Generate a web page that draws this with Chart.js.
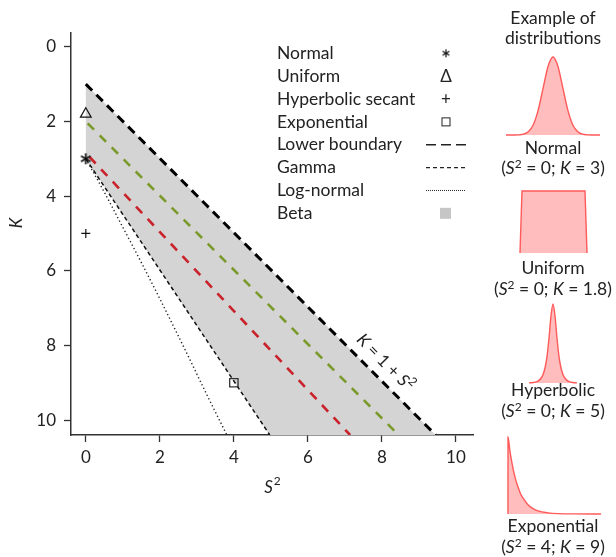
<!DOCTYPE html>
<html><head><meta charset="utf-8">
<script src="https://cdn.jsdelivr.net/npm/chart.js@4.4.0/dist/chart.umd.min.js"></script>
<style>
html,body{margin:0;padding:0;background:#fff;}
body{width:616px;height:557px;position:relative;overflow:hidden;font-family:Lato,sans-serif;color:#222;}
#main{position:absolute;left:0;top:0;}
.mini{position:absolute;}
.cap{position:absolute;width:150px;left:478px;text-align:center;font-size:17.5px;line-height:21px;white-space:nowrap;}
.sup{font-size:12px;position:relative;top:-6px;}
</style></head><body>
<canvas id="main" width="490" height="500"></canvas>
<canvas id="cNormal" class="mini" width="100" height="86" style="left:503px;top:52px"></canvas>
<canvas id="cUniform" class="mini" width="73" height="70" style="left:517px;top:186px"></canvas>
<canvas id="cHyp" class="mini" width="54" height="87" style="left:526px;top:299px"></canvas>
<canvas id="cExp" class="mini" width="99" height="85" style="left:505px;top:432px"></canvas>
<div class="cap" style="top:8px;line-height:20px">Example of<br>distributions</div>
<div class="cap" style="top:138px;line-height:20px">Normal<br>(<i>S</i><span class="sup">2</span> = 0; <i>K</i> = 3)</div>
<div class="cap" style="top:257px">Uniform<br>(<i>S</i><span class="sup">2</span> = 0; <i>K</i> = 1.8)</div>
<div class="cap" style="top:379px">Hyperbolic<br>(<i>S</i><span class="sup">2</span> = 0; <i>K</i> = 5)</div>
<div class="cap" style="top:515px">Exponential<br>(<i>S</i><span class="sup">2</span> = 4; <i>K</i> = 9)</div>
<script>
// ---------- data ----------
const xTicks = [0, 2, 4, 6, 8, 10];
const yTicks = [0, 2, 4, 6, 8, 10];
const upperBoundary = [[0, 1], [9.45, 10.4]];            // K = 1 + S^2 (lower boundary)
const gammaLine = [[0, 3], [4.97, 10.4]];
const logNormalLine = [[0, 3], [0.47, 3.84], [0.96, 4.76], [1.49, 5.76], [2.05, 6.85], [2.64, 8.03], [3.27, 9.32], [3.81, 10.4]];
const greenLine = [[0.05, 2.05], [8.45, 10.4]];
const redLine = [[0.1, 2.95], [7.14, 10.4]];
const betaRegion = [[0, 1], [9.45, 10.4], [4.97, 10.4], [0, 3]];
const normalPoint = [[0, 3]];
const uniformPoint = [[0, 1.8]];
const hypsecPoint = [[0, 5]];
const exponentialPoint = [[4, 9]];
const legendLabels = ['Normal', 'Uniform', 'Hyperbolic secant', 'Exponential', 'Lower boundary', 'Gamma', 'Log-normal', 'Beta'];

const normalX = [-4.8, -4, -3.5, -3, -2.5, -2, -1.5, -1, -0.5, 0, 0.5, 1, 1.5, 2, 2.5, 3, 3.5, 4, 4.8];
const normalY = [0, 0.0003, 0.002, 0.011, 0.044, 0.135, 0.325, 0.607, 0.882, 1, 0.882, 0.607, 0.325, 0.135, 0.044, 0.011, 0.002, 0.0003, 0];
const uniformX = [0, 0.03, 0.97, 1];
const uniformY = [0, 1, 1, 0];
const hypX = [-24, -20, -16, -14, -12, -10, -8, -6, -4, -2, 0, 2, 4, 6, 8, 10, 12, 14, 16, 20, 24];
const hypY = [0.002, 0.006, 0.018, 0.033, 0.06, 0.106, 0.19, 0.334, 0.566, 0.85, 1, 0.85, 0.566, 0.334, 0.19, 0.106, 0.06, 0.033, 0.018, 0.006, 0.002];
const expX = [-0.01, 0, 2, 4, 6, 8, 10, 13, 16, 20, 25, 30, 40, 50, 65, 93];
const expY = [0, 1, 0.81, 0.66, 0.53, 0.43, 0.35, 0.25, 0.19, 0.12, 0.07, 0.04, 0.015, 0.005, 0.001, 0];

// ---------- helpers ----------
const toXY = arr => arr.map(p => ({x: p[0], y: p[1]}));
const zipXY = (xs, ys) => xs.map((x, i) => ({x: x, y: ys[i]}));
const FS = 17.5;
Chart.defaults.font.family = 'Lato, sans-serif';
Chart.defaults.font.size = 17;
Chart.defaults.color = '#222';

function makeStar(size, lw) {
  const c0 = document.createElement('canvas');
  c0.width = size; c0.height = size;
  const c = c0.getContext('2d'), m = size / 2, L = size / 2 - 1;
  c.strokeStyle = '#111'; c.lineWidth = lw;
  [90, 30, 150].forEach(a => {
    const r = a * Math.PI / 180;
    c.beginPath();
    c.moveTo(m - Math.cos(r) * L, m - Math.sin(r) * L);
    c.lineTo(m + Math.cos(r) * L, m + Math.sin(r) * L);
    c.stroke();
  });
  return c0;
}
const star = makeStar(13, 1.7);
const legendStar = makeStar(10, 1.2);

const lineDs = (label, pts, color, width, dash, order) => ({
  label, data: toXY(pts), borderColor: color, borderWidth: width, borderDash: dash,
  borderCapStyle: 'butt', pointRadius: 0, fill: false, tension: 0, clip: 0, order
});
const lognormDs = lineDs('Log-normal', logNormalLine, '#222', 1.4, [1.3, 2.6], 5);
lognormDs.cubicInterpolationMode = 'monotone';

const decor = {
  id: 'decor',
  afterDatasetsDraw(chart) {
    const ctx = chart.ctx, xs = chart.scales.x, ys = chart.scales.y;
    ctx.save();
    const p0x = xs.getPixelForValue(0), p0y = ys.getPixelForValue(1);
    const p1x = xs.getPixelForValue(9), p1y = ys.getPixelForValue(10);
    const ang = Math.atan2(p1y - p0y, p1x - p0x);
    ctx.translate(xs.getPixelForValue(8.09), ys.getPixelForValue(8.46));
    ctx.rotate(ang);
    const parts = [['K', 'italic 17px Lato', 0], [' = 1 + ', '17px Lato', 0], ['S', 'italic 17px Lato', 0], ['2', '12px Lato', -6]];
    let w = 0;
    parts.forEach(p => { ctx.font = p[1]; w += ctx.measureText(p[0]).width; });
    let x = -w / 2;
    ctx.fillStyle = '#222'; ctx.textBaseline = 'middle'; ctx.textAlign = 'left';
    parts.forEach(p => { ctx.font = p[1]; ctx.fillText(p[0], x, p[2]); x += ctx.measureText(p[0]).width; });
    ctx.restore();
  },
  afterDraw(chart) {
    const ctx = chart.ctx;
    ctx.save();
    ctx.fillStyle = '#222'; ctx.textBaseline = 'middle';
    ctx.save();
    ctx.translate(17, 223); ctx.rotate(-Math.PI / 2);
    ctx.font = 'italic 17px Lato'; ctx.textAlign = 'center';
    ctx.fillText('K', 0, 0);
    ctx.restore();
    ctx.font = 'italic 17px Lato'; ctx.textAlign = 'left';
    const sw = ctx.measureText('S').width;
    ctx.font = '12px Lato';
    const tw = sw + ctx.measureText('2').width;
    ctx.font = 'italic 17px Lato';
    ctx.fillText('S', 272 - tw / 2, 488);
    ctx.font = '12px Lato';
    ctx.fillText('2', 272 - tw / 2 + sw + 1, 481);
    // legend
    const lx = 277, sx = 446, y0 = 53.3, dy = 22.86;
    ctx.font = FS + 'px Lato'; ctx.textAlign = 'left';
    legendLabels.forEach((t, i) => ctx.fillText(t, lx, y0 + i * dy));
    ctx.textAlign = 'center';
    ctx.drawImage(legendStar, sx - 5, y0 - 5);
    ctx.font = '17px Lato';
    ctx.fillText('\u0394', sx, y0 + dy);
    ctx.fillText('+', sx, y0 + 2 * dy);
    ctx.strokeStyle = '#222'; ctx.lineWidth = 1;
    ctx.strokeRect(sx - 4, y0 + 3 * dy - 4, 8, 8);
    const seg = (yy, dash, lw) => {
      ctx.beginPath(); ctx.setLineDash(dash); ctx.lineWidth = lw;
      ctx.moveTo(426, yy); ctx.lineTo(466, yy); ctx.stroke();
    };
    seg(y0 + 4 * dy, [10, 5], 1.5);
    seg(y0 + 5 * dy, [4, 3], 1.3);
    seg(y0 + 6 * dy, [1, 1], 1);
    ctx.setLineDash([]);
    ctx.fillStyle = '#c6c6c6';
    ctx.fillRect(440, y0 + 7 * dy - 5.5, 11, 11);
    ctx.restore();
  }
};

new Chart(document.getElementById('main'), {
  type: 'line',
  data: {
    datasets: [
      {label: 'Normal', data: toXY(normalPoint), showLine: false, pointStyle: star, pointRadius: 6, order: 0},
      {label: 'Uniform', data: toXY(uniformPoint), showLine: false, pointStyle: 'triangle', pointRadius: 6.2,
        borderColor: '#111', borderWidth: 1.2, backgroundColor: 'rgba(0,0,0,0)', order: 0},
      {label: 'Hyperbolic secant', data: toXY(hypsecPoint), showLine: false, pointStyle: 'cross', pointRadius: 4.5,
        borderColor: '#111', borderWidth: 1.2, order: 0},
      {label: 'Exponential', data: toXY(exponentialPoint), showLine: false, pointStyle: 'rect', pointRadius: 5.9,
        borderColor: '#333', borderWidth: 1.3, backgroundColor: 'rgba(0,0,0,0)', order: 0},
      lineDs('Lower boundary', upperBoundary, '#000', 3, [9, 6], 2),
      lineDs('Gamma', gammaLine, '#111', 1.5, [4, 3], 3),
      lognormDs,
      lineDs('Series A', greenLine, '#7a9a2b', 2.6, [9, 8], 4),
      lineDs('Series B', redLine, '#c9222b', 2.6, [9, 8], 4),
      {label: 'Beta', data: toXY(betaRegion), borderWidth: 0, pointRadius: 0, fill: 'shape',
        backgroundColor: '#d4d4d4', tension: 0, order: 10}
    ]
  },
  options: {
    responsive: false, animation: false, events: [],
    layout: {padding: {top: 33, right: 17, left: 0, bottom: 0}},
    plugins: {legend: {display: false}, tooltip: {enabled: false}},
    scales: {
      x: {
        type: 'linear', min: -0.4, max: 10.46,
        afterBuildTicks: s => { s.ticks = xTicks.map(v => ({value: v})); },
        afterFit: s => { s.height = 65; },
        ticks: {padding: 5, color: '#222', font: {size: 17}},
        grid: {drawOnChartArea: false, drawTicks: true, tickLength: 7, tickColor: '#333', tickWidth: 1.3},
        border: {display: true, color: '#333', width: 1.5}
      },
      y: {
        type: 'linear', reverse: true, min: -0.37, max: 10.4,
        afterBuildTicks: s => { s.ticks = yTicks.map(v => ({value: v})); },
        afterFit: s => { s.width = 71; },
        ticks: {padding: 8, color: '#222', font: {size: 17}},
        grid: {drawOnChartArea: false, drawTicks: true, tickLength: 7, tickColor: '#333', tickWidth: 1.3},
        border: {display: true, color: '#333', width: 1.5}
      }
    }
  },
  plugins: [decor]
});

function mini(id, xs, ys, xmin, xmax, smooth) {
  new Chart(document.getElementById(id), {
    type: 'line',
    data: {datasets: [{data: zipXY(xs, ys), borderColor: '#ff5a5a', borderWidth: 1.4,
      backgroundColor: '#ffbdbd', fill: 'origin', pointRadius: 0,
      cubicInterpolationMode: smooth ? 'monotone' : 'default', tension: 0, clip: false}]},
    options: {
      responsive: false, animation: false, events: [],
      layout: {padding: {left: 3, right: 3, top: 5, bottom: 3}},
      plugins: {legend: {display: false}, tooltip: {enabled: false}},
      scales: {
        x: {type: 'linear', min: xmin, max: xmax, display: false},
        y: {min: 0, max: 1, display: false}
      }
    }
  });
}
mini('cNormal', normalX, normalY, -4.8, 4.8, true);
mini('cUniform', uniformX, uniformY, 0, 1, false);
mini('cHyp', hypX, hypY, -24, 24, true);
mini('cExp', expX, expY, -0.01, 93, true);
</script>
</body></html>
